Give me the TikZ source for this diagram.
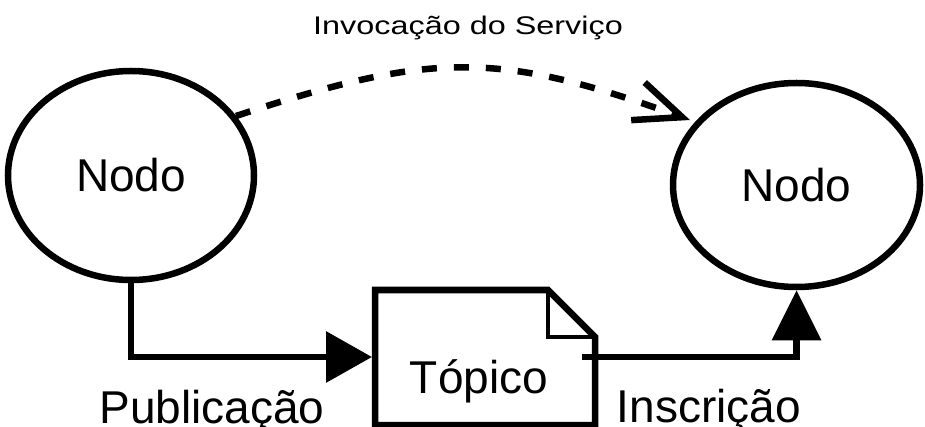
\documentclass[tikz,border=0pt]{standalone}
\usepackage{fontspec}
\setmainfont{Liberation Sans}
\newfontfamily\widefont[FakeStretch=1.27]{Liberation Sans}
\usetikzlibrary{shapes.geometric,arrows.meta}
\begin{document}
\begin{tikzpicture}[x=1pt,y=-1pt,
  nodo/.style={ellipse,draw,line width=6.5pt,inner sep=0pt,font=\fontsize{46}{50}\selectfont},
  conn/.style={line width=6.5pt,line join=miter},
  big/.style={inner sep=0pt,anchor=base,font=\fontsize{46}{50}\selectfont},
  small/.style={inner sep=0pt,anchor=base,font=\widefont\fontsize{25.5}{28}\selectfont}]
\useasboundingbox (0,0) rectangle (925,427);
% nodes
\node[nodo,minimum width=246pt,minimum height=209pt] (L) at (131,175.5) {Nodo};
\node[nodo,minimum width=247pt,minimum height=204pt] (R) at (796.5,185) {Nodo};
% document
\draw[line width=6.5pt,line join=miter] (375,425) -- (375,290) -- (548,290) -- (595,337) -- (595,425) -- cycle;
\draw[line width=4pt,line join=miter] (548,290) -- (548,337) -- (595,337);
\node[big] (T) at (479,393) {Tópico};
\coordinate (pubEnd) at (372,357);
\coordinate (subStart) at (582,357);
\coordinate (invStart) at (236,116);
\coordinate (invEnd) at (690,120);
% connectors
\draw[conn,-{Triangle[length=46pt,width=50pt]}] (L.south) |- (pubEnd);
\draw[conn,-{Triangle[length=50pt,width=48pt]}] (subStart) -| (R.south);
\draw[conn,dash pattern=on 15pt off 17pt,-{Straight Barb[length=47pt,width=40pt,line join=miter]}]
  (invStart) .. controls (433,51) and (498,51) .. (invEnd);
% labels
\node[small] (inv) at (468,35) {Invocação do Serviço};
\node[big] (pub) at (212,423) {Publicação};
\node[big] (ins) at (709,422) {Inscrição};
\end{tikzpicture}
\end{document}
